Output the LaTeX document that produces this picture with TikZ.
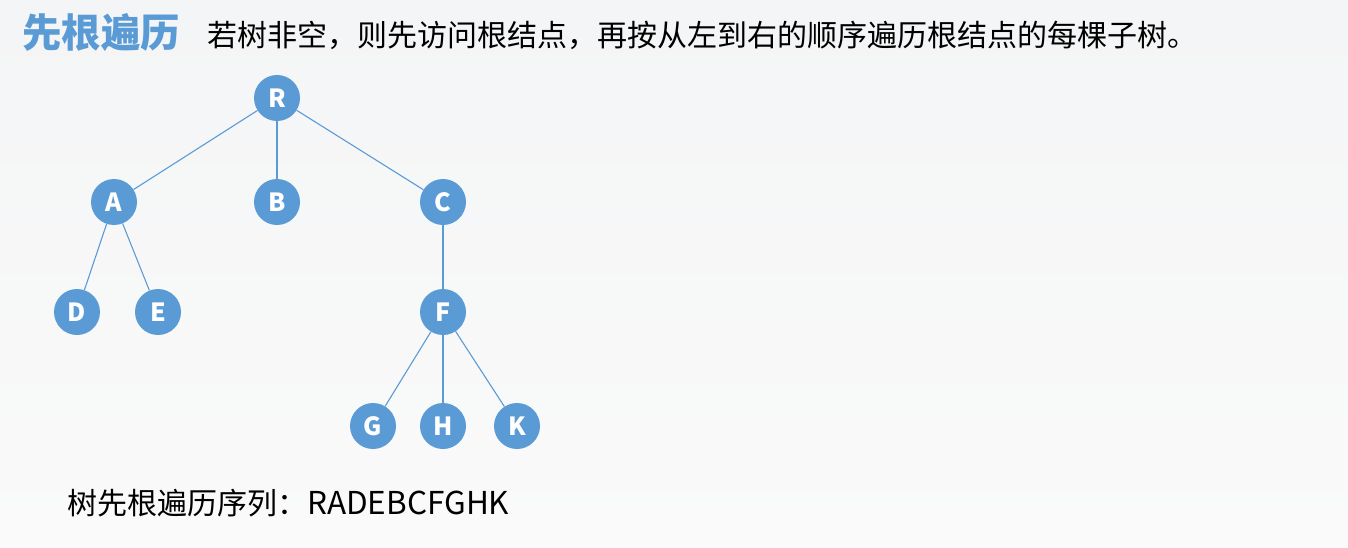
\documentclass[tikz,border=0pt]{standalone}
\usepackage{fontspec}
\setmainfont{Noto Sans CJK SC}
\newfontfamily\cjk{Noto Sans CJK SC}
\definecolor{nodeblue}{RGB}{91,155,213}
\definecolor{titleblue}{RGB}{91,155,213}
\definecolor{bgtop}{RGB}{244,245,246}
\definecolor{bgbot}{RGB}{250,250,250}
\begin{document}
\begin{tikzpicture}[x=1pt,y=-1pt,
  tnode/.style={circle,fill=nodeblue,draw=none,minimum size=46pt,inner sep=0pt,text=white,font=\cjk\bfseries\fontsize{25}{25}\selectfont},
  edge/.style={draw=nodeblue,line width=1.1pt}]
\shade[top color=bgtop,bottom color=bgbot] (0,0) rectangle (1348,548);
\useasboundingbox (0,0) rectangle (1348,548);
\node[anchor=west,inner sep=0pt,text=titleblue,font=\cjk\bfseries\fontsize{39.5}{39.5}\selectfont] (title) at (22,33) {先根遍历};
\node[anchor=west,inner sep=0pt,font=\cjk\fontsize{30}{30}\selectfont] (desc) at (207,35) {若树非空，则先访问根结点，再按从左到右的顺序遍历根结点的每棵子树。};
\node[tnode] (R) at (277,98) {R};
\node[tnode] (A) at (114,202) {A};
\node[tnode] (B) at (277,202) {B};
\node[tnode] (C) at (443,202) {C};
\node[tnode] (D) at (77,312) {D};
\node[tnode] (E) at (158,312) {E};
\node[tnode] (F) at (443,312) {F};
\node[tnode] (G) at (373,426) {G};
\node[tnode] (H) at (443,426) {H};
\node[tnode] (K) at (517,426) {K};
\draw[edge] (R) -- (A);
\draw[edge] (R) -- (B);
\draw[edge] (R) -- (C);
\draw[edge] (A) -- (D);
\draw[edge] (A) -- (E);
\draw[edge] (C) -- (F);
\draw[edge] (F) -- (G);
\draw[edge] (F) -- (H);
\draw[edge] (F) -- (K);
\node[anchor=west,inner sep=0pt,font=\cjk\fontsize{30}{30}\selectfont] (seq) at (67,503) {树先根遍历序列：{\fontsize{31.5}{31.5}\selectfont RADEBCFGHK}};
\end{tikzpicture}
\end{document}
